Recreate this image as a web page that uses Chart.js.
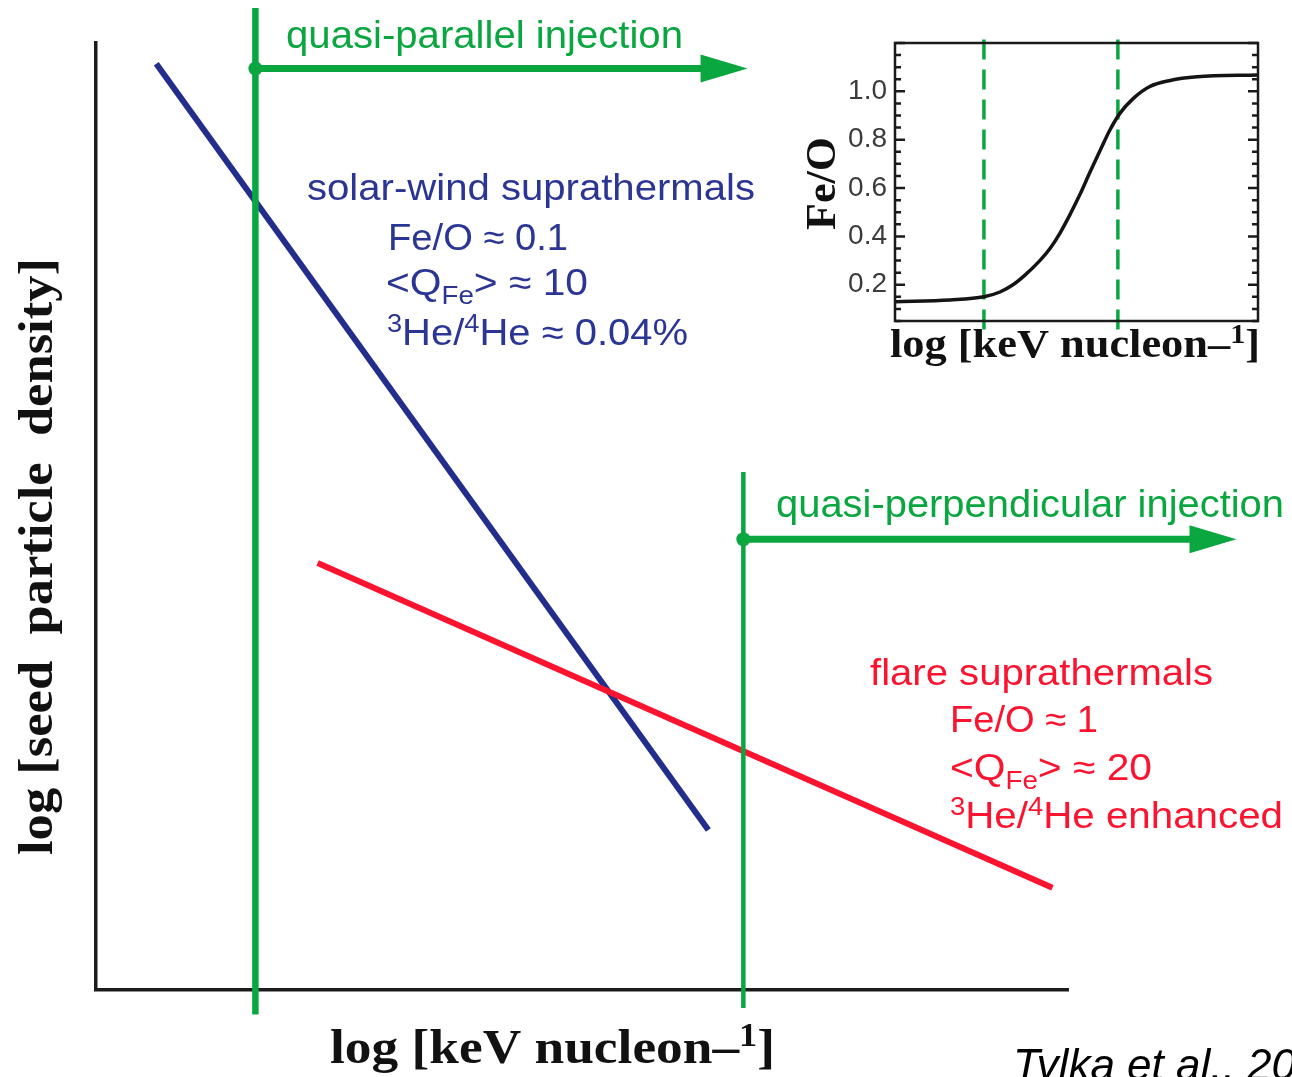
<!DOCTYPE html>
<html>
<head>
<meta charset="utf-8">
<title>Seed particle populations</title>
<script src="https://cdn.jsdelivr.net/npm/chart.js@4.4.0/dist/chart.umd.min.js"></script>
<style>
  html, body { margin: 0; padding: 0; background: #fff; }
  #wrap { position: relative; width: 1292px; height: 1077px; overflow: hidden; }
  #mainChart { position: absolute; left: 0; top: 0; }
  #insetChart { position: absolute; left: 780px; top: 0; }
</style>
</head>
<body>
<div id="wrap">
  <canvas id="mainChart" width="1292" height="1077"></canvas>
  <canvas id="insetChart" width="512" height="380"></canvas>
</div>
<script>
// main panel, arbitrary log units (0..10 on both axes)
const solarWindX = [0.62, 6.30];
const solarWindY = [9.78, 1.69];
const flareX = [2.28, 9.84];
const flareY = [4.51, 1.08];
// quasi-parallel, quasi-perpendicular injection thresholds
const injectionX = [1.64, 6.66];
const injectionTop = [10.37, 5.47];
const injectionBottom = [-0.26, -0.19];
const arrowY = [9.73, 4.76];
const arrowEndX = [6.23, 11.26];

// inset: Fe/O vs energy
const insetX = [0, 15.2, 24.5, 28.9, 32.5, 35.8, 39.9, 42.7, 45.5, 48.2, 51.0, 53.7, 56.5, 59.2, 62.0, 65.6, 70.2, 75.8, 83.2, 100];
const insetFeO = [0.13, 0.137, 0.15, 0.17, 0.20, 0.24, 0.30, 0.35, 0.415, 0.49, 0.575, 0.665, 0.755, 0.84, 0.91, 0.97, 1.02, 1.045, 1.06, 1.068];
const insetYTicks = [0.2, 0.4, 0.6, 0.8, 1.0];
const insetDashX = [24.5, 61.4];
const insetDashTop = 1.214;
const insetDashBottom = 0.0;

const SANS = "'Liberation Sans', Arial, sans-serif";
const SERIF = "'Liberation Serif', 'Times New Roman', serif";
const GREEN = '#0aa640';
const BLUE = '#232d8c';
const BLUE_TXT = '#2b3594';
const RED = '#fb1430';

function pts(xs, ys) {
    return xs.map((x, i) => ({ x: x, y: ys[i] }));
}

// text with sub/superscripts, optionally stretched to a given width
function drawRich(ctx, o) {
    ctx.save();
    const fontOf = (s) => (o.style || 'normal') + ' ' + (o.weight || 'normal') + ' ' + s + 'px ' + o.font;
    const items = o.parts.map(p => typeof p === 'string' ? { t: p, k: 'n' } : { t: p[0], k: p[1] });
    let total = 0;
    items.forEach(it => {
        it.s = it.k === 'n' ? o.size : o.size * 0.68;
        ctx.font = fontOf(it.s);
        it.w = ctx.measureText(it.t).width;
        total += it.w;
    });
    const sx = o.width ? o.width / total : 1;
    ctx.translate(o.x, o.y);
    if (o.rotate) ctx.rotate(o.rotate);
    ctx.scale(sx, 1);
    ctx.fillStyle = o.color;
    ctx.textAlign = 'left';
    ctx.textBaseline = 'alphabetic';
    let cx = 0;
    items.forEach(it => {
        ctx.font = fontOf(it.s);
        const dy = it.k === 'sub' ? o.size * 0.24 : it.k === 'sup' ? -o.size * 0.36 : 0;
        ctx.fillText(it.t, cx, dy);
        cx += it.w;
    });
    ctx.restore();
}

const mainLabels = [
    { parts: ['quasi-parallel injection'], x: 286, y: 48, size: 38, font: SANS, color: GREEN, width: 397 },
    { parts: ['quasi-perpendicular injection'], x: 776, y: 517, size: 38, font: SANS, color: GREEN, width: 508 },
    { parts: ['solar-wind suprathermals'], x: 307, y: 200, size: 37, font: SANS, color: BLUE_TXT, width: 448 },
    { parts: ['Fe/O \u2248 0.1'], x: 388, y: 250, size: 37, font: SANS, color: BLUE_TXT, width: 180 },
    { parts: ['<Q', ['Fe', 'sub'], '> \u2248 10'], x: 386, y: 295, size: 37, font: SANS, color: BLUE_TXT, width: 202 },
    { parts: [['3', 'sup'], 'He/', ['4', 'sup'], 'He \u2248 0.04%'], x: 387, y: 345, size: 37, font: SANS, color: BLUE_TXT, width: 301 },
    { parts: ['flare suprathermals'], x: 870, y: 685, size: 37, font: SANS, color: RED, width: 343 },
    { parts: ['Fe/O \u2248 1'], x: 950, y: 732, size: 37, font: SANS, color: RED, width: 148 },
    { parts: ['<Q', ['Fe', 'sub'], '> \u2248 20'], x: 950, y: 780, size: 37, font: SANS, color: RED, width: 202 },
    { parts: [['3', 'sup'], 'He/', ['4', 'sup'], 'He enhanced'], x: 950, y: 828, size: 37, font: SANS, color: RED, width: 333 },
    { parts: ['log [keV nucleon\u2013', ['1', 'sup'], ']'], x: 330, y: 1063, size: 48, font: SERIF, weight: 'bold', color: '#111', width: 445 },
    { parts: ['log [seed  particle  density]'], x: 52, y: 855, size: 48, font: SERIF, weight: 'bold', color: '#111', width: 597, rotate: -Math.PI / 2 },
    { parts: ['Tylka et al., 2005'], x: 1013, y: 1080, size: 44, font: SANS, style: 'italic', color: '#000' }
];

const insetLabels = [
    { parts: ['log [keV nucleon\u2013', ['1', 'sup'], ']'], x: 110, y: 357, size: 40, font: SERIF, weight: 'bold', color: '#111', width: 370 },
    { parts: ['Fe/O'], x: 55, y: 230, size: 42, font: SERIF, weight: 'bold', color: '#111', width: 93, rotate: -Math.PI / 2 }
];

const arrowHeads = {
    id: 'arrowHeads',
    afterDatasetsDraw(chart) {
        const ctx = chart.ctx;
        chart.data.datasets.forEach((ds, i) => {
            if (!ds.arrow) return;
            const meta = chart.getDatasetMeta(i);
            const p = meta.data[meta.data.length - 1];
            ctx.save();
            ctx.fillStyle = ds.borderColor;
            ctx.beginPath();
            ctx.moveTo(p.x - 1, p.y - 14);
            ctx.lineTo(p.x + 46, p.y);
            ctx.lineTo(p.x - 1, p.y + 14);
            ctx.closePath();
            ctx.fill();
            ctx.restore();
        });
    }
};

const textLayer = (labels) => ({
    id: 'textLayer',
    afterDraw(chart) {
        labels.forEach(l => drawRich(chart.ctx, l));
    }
});

const hiddenAxis = (min, max) => ({
    type: 'linear', min: min, max: max,
    ticks: { display: false },
    grid: { display: false, drawTicks: false },
    border: { display: true, color: '#1c1c1c', width: 3.5 }
});

new Chart(document.getElementById('mainChart'), {
    type: 'line',
    data: {
        datasets: [
            { label: 'solar-wind suprathermals', data: pts(solarWindX, solarWindY), borderColor: BLUE, borderWidth: 6, order: 3 },
            { label: 'flare suprathermals', data: pts(flareX, flareY), borderColor: RED, borderWidth: 6, order: 2 },
            { label: 'quasi-parallel', data: pts([injectionX[0], injectionX[0]], [injectionBottom[0], injectionTop[0]]), borderColor: GREEN, borderWidth: 6.5, order: 1 },
            { label: 'quasi-perpendicular', data: pts([injectionX[1], injectionX[1]], [injectionBottom[1], injectionTop[1]]), borderColor: GREEN, borderWidth: 4.5, order: 1 },
            { label: 'arrow 1', data: pts([injectionX[0], arrowEndX[0]], [arrowY[0], arrowY[0]]), borderColor: GREEN, borderWidth: 7, arrow: true, pointRadius: [7, 0], pointBackgroundColor: GREEN, pointBorderWidth: 0, order: 0 },
            { label: 'arrow 2', data: pts([injectionX[1], arrowEndX[1]], [arrowY[1], arrowY[1]]), borderColor: GREEN, borderWidth: 7, arrow: true, pointRadius: [7, 0], pointBackgroundColor: GREEN, pointBorderWidth: 0, order: 0 }
        ].map(d => Object.assign({ pointRadius: 0, clip: false, borderCapStyle: 'butt', tension: 0 }, d))
    },
    options: {
        responsive: false,
        animation: false,
        events: [],
        layout: { autoPadding: false, padding: { left: 96, right: 1292 - 1068, top: 43, bottom: 1077 - 990 } },
        plugins: { legend: { display: false }, tooltip: { enabled: false } },
        scales: { x: hiddenAxis(0, 10), y: hiddenAxis(0, 10) }
    },
    plugins: [arrowHeads, textLayer(mainLabels)]
});

const insetFrame = {
    id: 'insetFrame',
    afterDatasetsDraw(chart) {
        const ctx = chart.ctx;
        const a = chart.chartArea;
        const y = chart.scales.y;
        ctx.save();
        ctx.strokeStyle = '#1a1a1a';
        ctx.lineWidth = 2.5;
        ctx.strokeRect(a.left, a.top, a.right - a.left, a.bottom - a.top);
        for (let k = 1; k <= 24; k++) {
            const py = y.getPixelForValue(k * 0.05);
            const len = k % 4 === 0 ? 10 : 6;
            ctx.beginPath();
            ctx.moveTo(a.left, py); ctx.lineTo(a.left + len, py);
            ctx.moveTo(a.right, py); ctx.lineTo(a.right - len, py);
            ctx.stroke();
        }
        ctx.restore();
    }
};

new Chart(document.getElementById('insetChart'), {
    type: 'line',
    data: {
        datasets: [
            { label: 'Fe/O', data: pts(insetX, insetFeO), borderColor: '#141414', borderWidth: 3.5, cubicInterpolationMode: 'monotone' },
            { label: 'low', data: pts([insetDashX[0], insetDashX[0]], [insetDashTop, insetDashBottom]), borderColor: GREEN, borderWidth: 3.5, borderDash: [20, 10] },
            { label: 'high', data: pts([insetDashX[1], insetDashX[1]], [insetDashTop, insetDashBottom]), borderColor: GREEN, borderWidth: 3.5, borderDash: [20, 10] }
        ].map(d => Object.assign({ pointRadius: 0, clip: false }, d))
    },
    options: {
        responsive: false,
        animation: false,
        events: [],
        layout: { autoPadding: false, padding: { left: 0, right: 34, top: 43, bottom: 0 } },
        plugins: { legend: { display: false }, tooltip: { enabled: false } },
        scales: {
            x: {
                type: 'linear', min: 0, max: 100,
                ticks: { display: false },
                grid: { display: false, drawTicks: false },
                border: { display: false },
                afterFit: (s) => { s.height = 59; }
            },
            y: {
                type: 'linear', min: 0.05, max: 1.2,
                afterBuildTicks: (s) => { s.ticks = insetYTicks.map(v => ({ value: v })); },
                ticks: {
                    font: { family: SANS, size: 28 },
                    color: '#3c3c3c',
                    padding: 8,
                    callback: (v) => Number(v).toFixed(1)
                },
                grid: { display: false, drawTicks: false },
                border: { display: false },
                afterFit: (s) => { s.width = 115; }
            }
        }
    },
    plugins: [insetFrame, textLayer(insetLabels)]
});
</script>
</body>
</html>
